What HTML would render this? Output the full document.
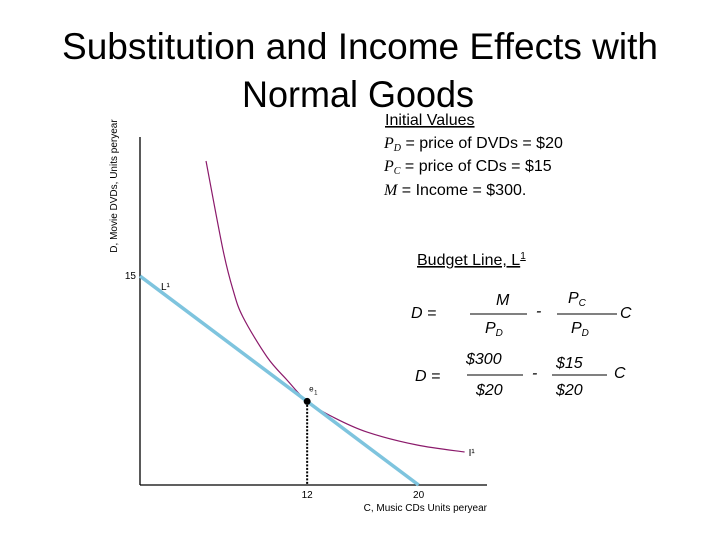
<!DOCTYPE html>
<html><head><meta charset="utf-8"><style>
html,body{margin:0;padding:0;background:#fff;}
svg{display:block;font-family:"Liberation Sans",sans-serif;}
.it{font-style:italic;}
</style></head><body>
<svg id="chart" width="720" height="540" viewBox="0 0 720 540">
<g font-size="37" fill="#000" text-anchor="middle">
<text x="360" y="59" textLength="596" lengthAdjust="spacingAndGlyphs">Substitution and Income Effects with</text>
<text x="358" y="107" textLength="232" lengthAdjust="spacingAndGlyphs">Normal Goods</text>
</g>
<g font-size="16" fill="#000">
<text x="385" y="125" text-decoration="underline">Initial Values</text>
<text x="384" y="148"><tspan font-family="Liberation Serif" font-style="italic">P</tspan><tspan font-family="Liberation Serif" font-style="italic" font-size="10" dy="3">D</tspan><tspan dy="-3"> = price of DVDs = $20</tspan></text>
<text x="384" y="171"><tspan font-family="Liberation Serif" font-style="italic">P</tspan><tspan font-family="Liberation Serif" font-style="italic" font-size="10" dy="3">C</tspan><tspan dy="-3"> = price of CDs = $15</tspan></text>
<text x="384" y="195"><tspan font-family="Liberation Serif" font-style="italic">M</tspan> = Income = $300.</text>
<text x="417" y="265" text-decoration="underline">Budget Line, L<tspan font-size="10" dy="-6">1</tspan></text>
</g>
<g font-size="16" class="it" fill="#000">
<text x="411" y="318">D =</text>
<text x="496" y="305">M</text>
<line x1="470" y1="314" x2="527" y2="314" stroke="#000"/>
<text x="485" y="333">P<tspan font-size="10" dy="3">D</tspan></text>
<text x="536" y="316">-</text>
<text x="568" y="303">P<tspan font-size="10" dy="3">C</tspan></text>
<line x1="557" y1="314" x2="617" y2="314" stroke="#000"/>
<text x="571" y="333">P<tspan font-size="10" dy="3">D</tspan></text>
<text x="620" y="318">C</text>
<text x="415" y="381">D =</text>
<text x="466" y="364">$300</text>
<line x1="467" y1="375" x2="523" y2="375" stroke="#000"/>
<text x="476" y="395">$20</text>
<text x="532" y="378">-</text>
<text x="556" y="368">$15</text>
<line x1="552" y1="375" x2="607" y2="375" stroke="#000"/>
<text x="556" y="395">$20</text>
<text x="614" y="378">C</text>
</g>
<g id="plot"></g>
</svg>
<script>
const xTickValues=[12,20];
const xTickLabels=["12","20"];
const yTickValues=[15];
const yTickLabels=["15"];
const budgetIntercepts=[15,20]; // D-intercept, C-intercept
const equilibrium=[12,6];
const curveC=[4.74,5.96,6.68,7.39,9.12,10.55,12,13.85,16.3,19.89,23.3];
const curveD=[23.26,16.87,14.0,12.06,9.19,7.54,6,4.88,3.8,2.87,2.37];
const NS='http://www.w3.org/2000/svg';
const X0=140,Y0=485,U=13.93;
const sx=c=>X0+c*U, sy=d=>Y0-d*U;
const g=document.getElementById('plot');
function mk(t,a,txt){const e=document.createElementNS(NS,t);for(const k in a)e.setAttribute(k,a[k]);if(txt!=null)e.textContent=txt;g.appendChild(e);return e;}
let e;
e=mk('line',{x1:X0,y1:137,x2:X0,y2:Y0,stroke:'#000','stroke-width':1.3});


e=mk('line',{x1:X0,y1:Y0,x2:487,y2:Y0,stroke:'#000','stroke-width':1.3});


xTickValues.forEach((v,i)=>{e=mk('text',{x:sx(v),y:Y0+13,'font-size':10,'text-anchor':'middle'},xTickLabels[i]);

});
yTickValues.forEach((v,i)=>{e=mk('text',{x:X0-4,y:sy(v)+3,'font-size':10,'text-anchor':'end'},yTickLabels[i]);

});
e=mk('text',{x:487,y:Y0+26,'font-size':10,'text-anchor':'end'},'C, Music CDs Units peryear');


e=mk('text',{x:0,y:0,'font-size':10,'text-anchor':'middle',transform:'translate(117,186) rotate(-90)'},'D, Movie DVDs, Units peryear');


// indifference curve
const pts=curveC.map((c,i)=>[sx(c),sy(curveD[i])]);
let d='M'+pts[0][0]+','+pts[0][1];
for(let i=0;i<pts.length-1;i++){const p0=pts[i-1]||pts[i],p1=pts[i],p2=pts[i+1],p3=pts[i+2]||p2;
d+=' C'+(p1[0]+(p2[0]-p0[0])/6)+','+(p1[1]+(p2[1]-p0[1])/6)+' '+(p2[0]-(p3[0]-p1[0])/6)+','+(p2[1]-(p3[1]-p1[1])/6)+' '+p2[0]+','+p2[1];}
e=mk('path',{d:d,fill:'none',stroke:'#8b1a6b','stroke-width':1.2});


e=mk('text',{x:pts[pts.length-1][0]+4,y:pts[pts.length-1][1]+4,'font-size':10},'I¹');


// budget line
e=mk('line',{x1:sx(0),y1:sy(budgetIntercepts[0]),x2:sx(budgetIntercepts[1]),y2:sy(0),stroke:'#7ec4de','stroke-width':3.5});


e=mk('text',{x:sx(0)+21,y:sy(budgetIntercepts[0])+14,'font-size':10},'L¹');


// equilibrium
e=mk('line',{x1:sx(equilibrium[0]),y1:sy(equilibrium[1]),x2:sx(equilibrium[0]),y2:Y0,stroke:'#000','stroke-width':2,'stroke-dasharray':'2,1.5'});


e=mk('circle',{cx:sx(equilibrium[0]),cy:sy(equilibrium[1]),r:3.5,fill:'#000'});


e=mk('text',{x:sx(equilibrium[0])+2,y:sy(equilibrium[1])-10,'font-size':8},'e');


e=mk('text',{x:sx(equilibrium[0])+7,y:sy(equilibrium[1])-7,'font-size':6},'1');


</script>
</body></html>
